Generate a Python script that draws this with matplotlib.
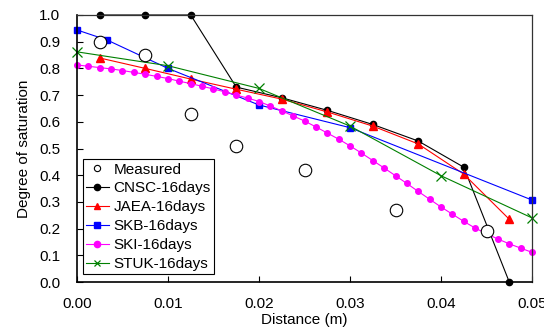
import numpy as np
import matplotlib
matplotlib.use("Agg")
import matplotlib.pyplot as plt

plt.rcParams['font.family'] = ['Liberation Sans', 'DejaVu Sans']

# Measured
meas_x = [0.0025, 0.0075, 0.0125, 0.0175, 0.025, 0.035, 0.045]
meas_y = [0.90, 0.85, 0.63, 0.51, 0.42, 0.27, 0.19]

# CNSC / JAEA share the same x grid
grid_x = [0.0025, 0.0075, 0.0125, 0.0175, 0.0225, 0.0275, 0.0325, 0.0375, 0.0425, 0.0475]
cnsc_y = [1.0, 1.0, 1.0, 0.73, 0.69, 0.643, 0.59, 0.528, 0.43, 0.0]
jaea_y = [0.839, 0.80, 0.76, 0.722, 0.685, 0.637, 0.584, 0.517, 0.404, 0.235]

skb_x = [0.0, 0.00333, 0.01, 0.02, 0.03, 0.05]
skb_y = [0.944, 0.906, 0.80, 0.663, 0.578, 0.307]

ski_x = [i * 0.00125 for i in range(41)]
ski_y = [0.813, 0.808, 0.803, 0.798, 0.792, 0.785, 0.778, 0.770, 0.762, 0.752,
         0.743, 0.733, 0.723, 0.712, 0.700, 0.689, 0.676, 0.659, 0.641, 0.622,
         0.603, 0.581, 0.558, 0.535, 0.510, 0.483, 0.455, 0.427, 0.398, 0.369,
         0.339, 0.310, 0.281, 0.254, 0.227, 0.202, 0.181, 0.161, 0.143, 0.127,
         0.111]

stuk_x = [0.0, 0.01, 0.02, 0.03, 0.04, 0.05]
stuk_y = [0.862, 0.81, 0.725, 0.584, 0.398, 0.24]

fig = plt.figure(figsize=(5.44, 3.31), dpi=100)
ax = fig.add_axes([0.1415, 0.148, 0.8365, 0.8067])

ax.plot(meas_x, meas_y, 'o', mfc='white', mec='black', ms=9, mew=0.8, label='Measured', zorder=5)
ax.plot(grid_x, cnsc_y, '-o', color='black', lw=0.8, ms=4.5, label='CNSC-16days', clip_on=False)
ax.plot(grid_x, jaea_y, '-^', color='#ff0000', lw=0.8, ms=5.5, label='JAEA-16days', clip_on=False)
ax.plot(skb_x, skb_y, '-s', color='#0000ff', lw=0.8, ms=4.5, label='SKB-16days', clip_on=False)
ax.plot(ski_x, ski_y, '-o', color='#ff00ff', lw=0.8, ms=4, label='SKI-16days', clip_on=False)
ax.plot(stuk_x, stuk_y, '-x', color='#008000', lw=0.8, ms=6.5, mew=0.9, label='STUK-16days', clip_on=False)

ax.set_xlim(0, 0.05)
ax.set_ylim(0, 1.0)
ax.set_xticks(np.arange(0, 0.0501, 0.01))
ax.set_yticks(np.arange(0, 1.01, 0.1))
ax.xaxis.set_major_formatter(matplotlib.ticker.FormatStrFormatter('%.2f'))
ax.yaxis.set_major_formatter(matplotlib.ticker.FormatStrFormatter('%.1f'))
ax.tick_params(direction='in', length=4, width=0.8, labelsize=11)
ax.tick_params(axis='y', pad=12)
ax.tick_params(axis='x', pad=11)
ax.set_xlabel('Distance (m)', fontsize=11, labelpad=1)
ax.set_ylabel('Degree of saturation', fontsize=11, labelpad=6)

for s in ['left', 'bottom']:
    ax.spines[s].set_linewidth(1.2)
for s in ['top', 'right']:
    ax.spines[s].set_linewidth(0.9)
    ax.spines[s].set_color('#333333')

leg = ax.legend(loc='lower left', bbox_to_anchor=(0.013, 0.03), fontsize=11,
                handlelength=1.5, handletextpad=0.3, labelspacing=0.32,
                borderpad=0.2, borderaxespad=0, fancybox=False,
                edgecolor='black', framealpha=1)
leg.get_frame().set_linewidth(0.8)
for h in leg.legend_handles:
    h.set_markersize(4.5)

fig.savefig('out.png', dpi=100)
